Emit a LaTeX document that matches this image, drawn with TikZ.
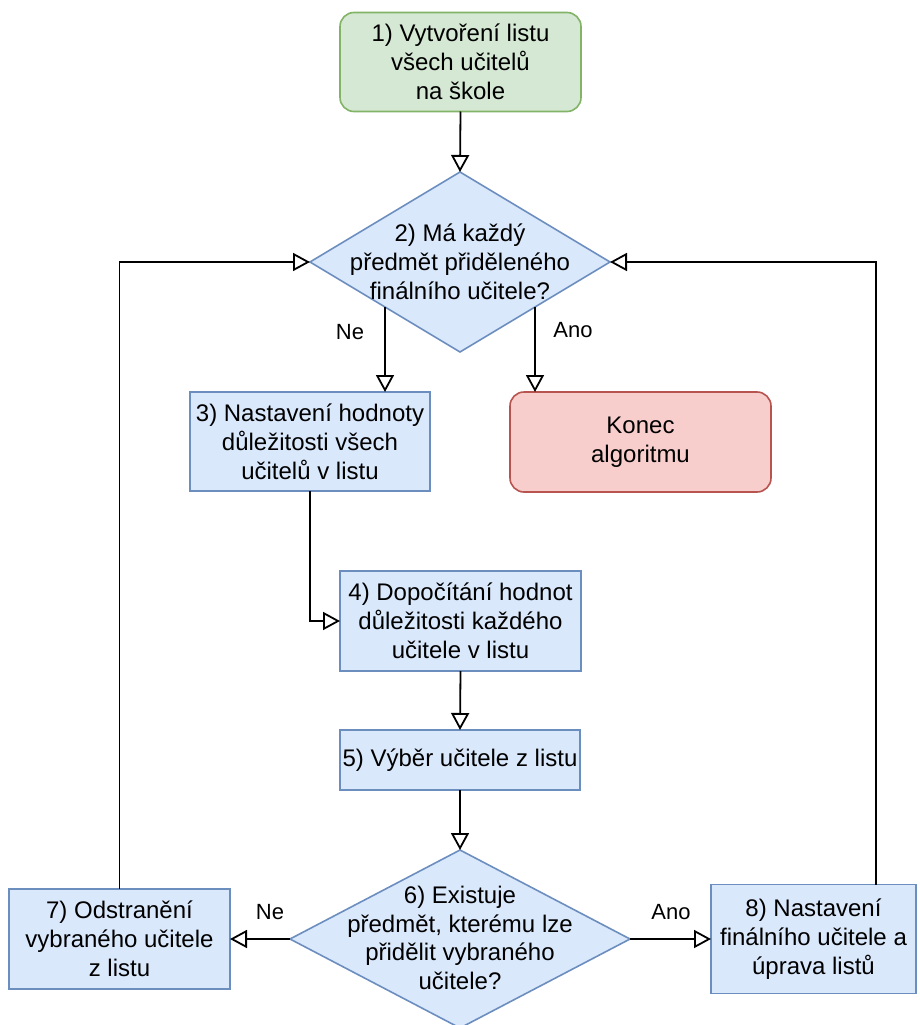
\documentclass[tikz,border=0pt]{standalone}
\usepackage{fontspec}
\setmainfont{Liberation Sans}
\usetikzlibrary{shapes.geometric,arrows.meta,calc}

\definecolor{startfill}{HTML}{D5E8D4}
\definecolor{startline}{HTML}{82B366}
\definecolor{stepfill}{HTML}{DAE8FC}
\definecolor{stepline}{HTML}{6C8EBF}
\definecolor{endfill}{HTML}{F8CECC}
\definecolor{endline}{HTML}{B85450}

\tikzset{
  boxtext/.style={align=center, font=\fontsize{24}{28.8}\selectfont},
  stepbox/.style={boxtext, draw=stepline, fill=stepfill, line width=1.6pt,
    inner sep=0pt, outer sep=0pt},
  startbox/.style={stepbox, draw=startline, fill=startfill, rounded corners=14pt},
  endbox/.style={stepbox, draw=endline, fill=endfill, rounded corners=14pt},
  decision/.style={diamond, draw=stepline, fill=stepfill, line width=1.6pt,
    inner sep=0pt, outer sep=0pt},
  edgelabel/.style={font=\fontsize{22}{26}\selectfont, inner sep=0pt},
  flow/.style={line width=1.8pt, -{Triangle[open, length=17pt, width=18pt, line width=1.8pt]}},
}

\begin{document}
\begin{tikzpicture}[x=1pt, y=-1pt]
  \useasboundingbox[fill=white] (0,0) rectangle (919,1025);

  % steps
  \node[startbox, minimum width=241pt, minimum height=99pt] (s1) at (460.5,62)
    {1) Vytvoření listu\\všech učitelů\\na škole};

  \node[decision, minimum width=300pt, minimum height=180pt] (d2) at (460,262) {};
  \node[boxtext] (t2) at (460,262) {2) Má každý\\předmět přiděleného\\finálního učitele?};

  \node[stepbox, minimum width=240pt, minimum height=99pt] (s3) at (310,441.5)
    {3) Nastavení hodnoty\\důležitosti všech\\učitelů v listu};

  \node[endbox, minimum width=261pt, minimum height=100pt] (fin) at (640.5,442)
    {Konec\\algoritmu};

  \node[stepbox, minimum width=241pt, minimum height=100pt] (s4) at (460.5,621)
    {4) Dopočítání hodnot\\důležitosti každého\\učitele v listu};

  \node[stepbox, minimum width=240pt, minimum height=60pt] (s5) at (460,760)
    {5) Výběr učitele z listu};

  \node[decision, minimum width=340pt, minimum height=178pt] (d6) at (460,939) {};
  \node[boxtext] (t6) at (460,938) {6) Existuje\\předmět, kterému lze\\přidělit vybraného\\učitele?};

  \node[stepbox, minimum width=221pt, minimum height=100pt] (s7) at (119.5,939)
    {7) Odstranění\\vybraného učitele\\z listu};

  \node[stepbox, minimum width=205pt, minimum height=109pt] (s8) at (813.5,939)
    {8) Nastavení\\finálního učitele a\\úprava listů};

  % connectors
  \draw[flow] (s1.south) -- (d2.north);
  \draw[flow] (d2.south west) -- (d2.south west |- s3.north);
  \draw[flow] (d2.south east) -- (d2.south east |- fin.north);
  \draw[flow] (s3.south) |- (s4.west);
  \draw[flow] (s4.south) -- (s5.north);
  \draw[flow] (s5.south) -- (d6.north);
  \draw[flow] (d6.west) -- (s7.east);
  \draw[flow] (d6.east) -- (s8.west);
  \draw[flow] (s7.north) |- (d2.west);
  \coordinate (s8up) at ($(s8.north)+(62.5,0)$);
  \draw[flow] (s8up) |- (d2.east);

  % branch labels
  \node[edgelabel] (ne1) at (350,332) {Ne};
  \node[edgelabel] (ano1) at (573,330) {Ano};
  \node[edgelabel] (ne2) at (270,912) {Ne};
  \node[edgelabel] (ano2) at (671,912) {Ano};
\end{tikzpicture}
\end{document}
